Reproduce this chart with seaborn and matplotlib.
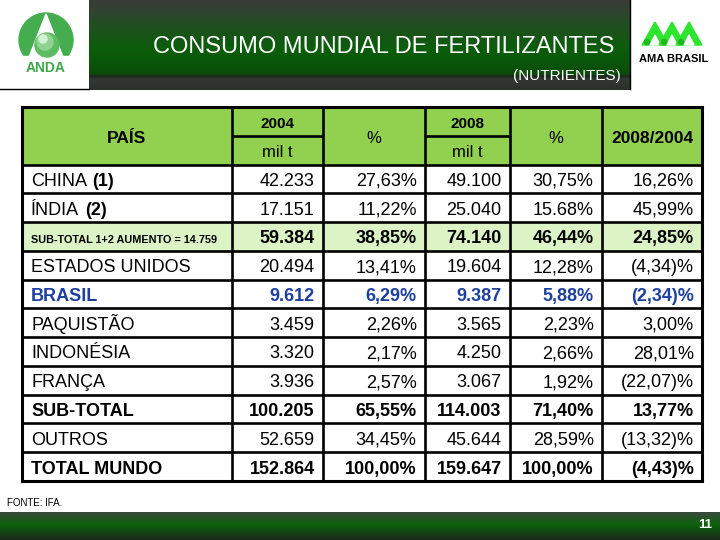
import numpy as np
import matplotlib
matplotlib.use("Agg")
import matplotlib.pyplot as plt
from matplotlib.colors import ListedColormap
from matplotlib.patches import Circle, Polygon, Rectangle
import seaborn as sns

plt.rcParams["font.family"] = ["Liberation Sans", "DejaVu Sans"]

# dados da tabela (mil t de nutrientes)
paises = ["CHINA", "ÍNDIA", "SUB-TOTAL 1+2 AUMENTO = 14.759", "ESTADOS UNIDOS", "BRASIL",
          "PAQUISTÃO", "INDONÉSIA", "FRANÇA", "SUB-TOTAL", "OUTROS", "TOTAL MUNDO"]
notas = ["(1)", "(2)", "", "", "", "", "", "", "", "", ""]
mil_t_2004 = ["42.233", "17.151", "59.384", "20.494", "9.612", "3.459", "3.320", "3.936",
              "100.205", "52.659", "152.864"]
pct_2004 = ["27,63%", "11,22%", "38,85%", "13,41%", "6,29%", "2,26%", "2,17%", "2,57%",
            "65,55%", "34,45%", "100,00%"]
mil_t_2008 = ["49.100", "25.040", "74.140", "19.604", "9.387", "3.565", "4.250", "3.067",
              "114.003", "45.644", "159.647"]
pct_2008 = ["30,75%", "15.68%", "46,44%", "12,28%", "5,88%", "2,23%", "2,66%", "1,92%",
            "71,40%", "28,59%", "100,00%"]
var_08_04 = ["16,26%", "45,99%", "24,85%", "(4,34)%", "(2,34)%", "3,00%", "28,01%", "(22,07)%",
             "13,77%", "(13,32)%", "(4,43)%"]

# 0 = linha normal, 1 = sub-total china+india (fundo verde claro)
row_kind = [0, 0, 1, 0, 0, 0, 0, 0, 0, 0, 0]
row_bold = [False, False, True, False, True, False, False, False, True, False, True]
row_blue = [False, False, False, False, True, False, False, False, False, False, False]

HEADER_GREEN = "#92D050"
LIGHT_GREEN = "#DCF3C6"
BLUE = "#1C3FA0"

fig = plt.figure(figsize=(7.2, 5.4), dpi=100)
fig.patch.set_facecolor("white")

# camada de fundo em pixels
deco = fig.add_axes([0, 0, 1, 1])


def gradient(stops):
    ys = np.linspace(0, 1, 120)
    fr = [s[0] for s in stops]
    cols = np.array([s[1] for s in stops])
    img = np.stack([np.interp(ys, fr, cols[:, k]) for k in range(3)], axis=-1)
    return img[:, None, :]


head_img = gradient([(0.0, (0.23, 0.23, 0.23)), (0.25, (0.14, 0.30, 0.14)),
                     (0.55, (0.04, 0.37, 0.04)), (0.82, (0.04, 0.30, 0.04)),
                     (0.85, (0.10, 0.16, 0.10)), (0.88, (0.20, 0.22, 0.20)),
                     (1.0, (0.17, 0.19, 0.17))])
deco.imshow(head_img, extent=[89, 630, 90, 0], aspect="auto", interpolation="bilinear")
foot_img = gradient([(0.0, (0.24, 0.29, 0.24)), (0.45, (0.04, 0.38, 0.04)),
                     (1.0, (0.10, 0.16, 0.10))])
deco.imshow(foot_img, extent=[0, 720, 540, 512], aspect="auto", interpolation="bilinear")

deco.plot([0, 89], [89, 89], color="black", lw=1)
deco.plot([630, 630], [0, 89], color="black", lw=1)

# logo ANDA
deco.add_patch(Circle((46, 40), 27, color="#45AD4F"))
deco.add_patch(Rectangle((15, 56), 62, 14, color="white"))
deco.add_patch(Polygon([(46, 14), (29, 57), (63, 57)], color="white"))
deco.add_patch(Circle((47, 45), 12, color="#5DBB63"))
deco.add_patch(Circle((45, 42), 8, color="#8FD492"))
deco.add_patch(Circle((43, 39), 4, color="#D4F2D4"))
deco.text(46, 72, "ANDA", color="#3DA84A", fontsize=10, fontweight="bold", ha="center", va="baseline")

# logo AMA BRASIL
for cx in (655, 672, 689):
    deco.add_patch(Polygon([(cx - 13, 45), (cx, 22), (cx + 13, 45)], color="#2EE52E"))
    deco.add_patch(Polygon([(cx - 5, 45), (cx, 35), (cx + 5, 45)], color="white"))
    deco.add_patch(Circle((cx - 8, 42), 2.6, color="#1FB81F"))
deco.text(674, 62, "AMA BRASIL", color="black", fontsize=8, fontweight="bold", ha="center", va="baseline")

deco.text(384, 53, "CONSUMO MUNDIAL DE FERTILIZANTES", color="white", fontsize=17,
          ha="center", va="baseline")
deco.text(621, 80, "(NUTRIENTES)", color="white", fontsize=11, ha="right", va="baseline")
deco.text(7, 506, "FONTE: IFA.", color="black", fontsize=7, ha="left", va="baseline")
deco.text(712, 528, "11", color="white", fontsize=9.5, fontweight="bold", ha="right", va="baseline")

deco.set_xlim(0, 720)
deco.set_ylim(540, 0)
deco.axis("off")

# tabela
ax = fig.add_axes([22 / 720, 1 - 481 / 540, 680 / 720, 374 / 540])
grid = np.array([[2], [2]] + [[k] for k in row_kind])
sns.heatmap(grid, cmap=ListedColormap(["white", LIGHT_GREEN, HEADER_GREEN]), vmin=-0.5, vmax=2.5,
            cbar=False, xticklabels=False, yticklabels=False, ax=ax)

edges = np.array([0, 210, 301, 403, 488, 580, 680]) / 680
n_rows = grid.shape[0]
ax.vlines(edges[1:-1], 0, n_rows, color="black", lw=1.9)
for y in range(1, n_rows):
    if y == 1:
        ax.hlines(1, edges[1], edges[2], color="black", lw=1.9)
        ax.hlines(1, edges[3], edges[4], color="black", lw=1.9)
    else:
        ax.hlines(y, 0, 1, color="black", lw=1.9)
for side in ax.spines.values():
    side.set_visible(True)
    side.set_color("black")
    side.set_linewidth(2.2)

BASE = 0.24


def center(col, y, s, size, bold):
    ax.text((edges[col] + edges[col + 1]) / 2, y + BASE, s, ha="center", va="baseline",
            fontsize=size, fontweight="bold" if bold else "normal")


center(0, 1.0, "PAÍS", 12.5, True)
center(1, 0.5, "2004", 11, True)
center(1, 1.5, "mil t", 12, False)
center(2, 1.0, "%", 12, False)
center(3, 0.5, "2008", 11, True)
center(3, 1.5, "mil t", 12, False)
center(4, 1.0, "%", 12, False)
center(5, 1.0, "2008/2004", 12.5, True)

columns = [mil_t_2004, pct_2004, mil_t_2008, pct_2008, var_08_04]
for i, nome in enumerate(paises):
    y = i + 2.5 + BASE
    weight = "bold" if row_bold[i] else "normal"
    color = BLUE if row_blue[i] else "black"
    size = 7.8 if row_kind[i] == 1 else 13
    t = ax.annotate(nome, xy=(0, y), xytext=(6.5, 0), textcoords="offset points",
                    ha="left", va="baseline", fontsize=size, fontweight=weight, color=color)
    if notas[i]:
        ax.annotate(notas[i], xy=(1, 0), xycoords=t, xytext=(4, 0), textcoords="offset points",
                    ha="left", va="bottom", fontsize=13, fontweight="bold", color=color)
    for c, vals in enumerate(columns):
        ax.annotate(vals[i], xy=(edges[c + 2], y), xytext=(-6, 0), textcoords="offset points",
                    ha="right", va="baseline", fontsize=13, fontweight=weight, color=color)

fig.savefig("out.png", dpi=100)
